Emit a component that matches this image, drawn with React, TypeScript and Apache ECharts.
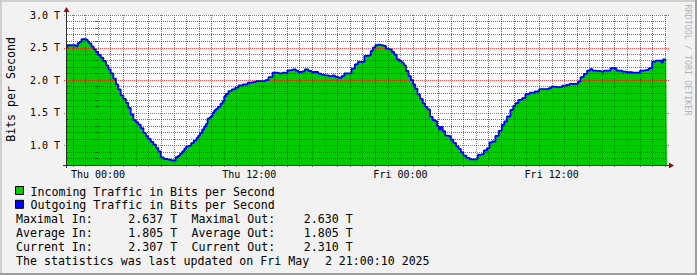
import React, { useEffect, useRef } from 'react';
import * as echarts from 'echarts';

// time in hours relative to Thu 00:00
const hours = [
  -2.46, -2.38, -1.83, -1.71, -1.53, -1.41, -1.22, -1.01, -0.87, -0.74,
  -0.61, -0.42, -0.26, -0.08, 0.10, 0.32, 0.53, 0.72, 0.90, 1.11,
  1.33, 1.51, 1.69, 1.91, 2.12, 2.30, 2.49, 2.70, 2.92, 3.10,
  3.28, 3.50, 3.71, 3.89, 4.08, 4.29, 4.50, 4.69, 4.87, 5.08,
  5.35, 5.62, 5.88, 6.04, 6.28, 6.43, 6.59, 6.78, 6.91, 7.07,
  7.31, 7.49, 7.71, 7.92, 8.02, 8.18, 8.36, 8.50, 8.63, 8.76,
  8.90, 9.03, 9.16, 9.29, 9.43, 9.61, 9.83, 9.95, 10.09, 10.22,
  10.49, 10.75, 11.02, 11.28, 11.68, 12.07, 12.34, 12.73, 13.13, 13.40,
  13.66, 14.04, 14.43, 14.69, 14.96, 15.09, 15.35, 15.62, 15.75, 16.02,
  16.28, 16.55, 16.82, 17.08, 17.34, 17.61, 17.87, 18.13, 18.40, 18.67,
  18.93, 19.20, 19.46, 19.64, 19.99, 20.25, 20.52, 20.71, 21.05, 21.23,
  21.58, 21.71, 21.92, 22.08, 22.26, 22.48, 22.74, 22.96, 23.22, 23.41,
  23.59, 23.81, 24.01, 24.20, 24.33, 24.54, 24.73, 24.92, 25.08, 25.26,
  25.44, 25.66, 25.87, 26.05, 26.24, 26.45, 26.66, 26.85, 26.98, 27.11,
  27.24, 27.46, 27.64, 27.90, 28.09, 28.30, 28.52, 28.70, 28.89, 29.10,
  29.37, 29.63, 29.89, 30.10, 30.21, 30.48, 30.74, 31.00, 31.14, 31.40,
  31.67, 31.93, 32.15, 32.33, 32.59, 32.86, 33.04, 33.20, 33.52, 33.78,
  34.05, 34.45, 34.85, 35.16, 35.64, 35.90, 36.04, 36.43, 36.70, 36.96,
  37.36, 37.49, 38.02, 38.15, 38.42, 38.68, 38.94, 39.13, 39.34, 39.61,
  40.01, 40.27, 40.53, 40.80, 41.06, 41.20, 41.46, 41.72, 42.12, 42.52,
  42.92, 43.11, 43.58, 43.84, 44.11, 44.37, 44.63, 44.77, 44.90, 45.04,
  45.15,
];

// Tbit/s
const incoming = [
  2.49, 2.536, 2.536, 2.52, 2.567, 2.587, 2.628, 2.628, 2.618, 2.587,
  2.56, 2.515, 2.474, 2.433, 2.387, 2.346, 2.295, 2.228, 2.167, 2.105,
  2.023, 1.936, 1.859, 1.767, 1.715, 1.654, 1.577, 1.474, 1.387, 1.356,
  1.32, 1.264, 1.192, 1.141, 1.1, 1.054, 1.013, 0.962, 0.91, 0.818,
  0.792, 0.782, 0.772, 0.767, 0.82, 0.84, 0.874, 0.91, 0.95, 0.987,
  0.997, 1.036, 1.074, 1.113, 1.15, 1.19, 1.244, 1.29, 1.33, 1.41,
  1.425, 1.451, 1.5, 1.536, 1.56, 1.592, 1.64, 1.68, 1.754, 1.792,
  1.833, 1.859, 1.885, 1.92, 1.936, 1.962, 1.972, 1.987, 1.987, 2.0,
  2.046, 2.115, 2.105, 2.115, 2.105, 2.151, 2.156, 2.167, 2.146, 2.126,
  2.136, 2.167, 2.141, 2.126, 2.126, 2.1, 2.085, 2.074, 2.064, 2.074,
  2.05, 2.038, 2.064, 2.105, 2.105, 2.177, 2.244, 2.28, 2.28, 2.372,
  2.382, 2.449, 2.5, 2.536, 2.546, 2.536, 2.526, 2.485, 2.474, 2.433,
  2.392, 2.32, 2.295, 2.269, 2.228, 2.141, 2.064, 2.0, 1.936, 1.869,
  1.782, 1.715, 1.644, 1.592, 1.551, 1.438, 1.387, 1.372, 1.295, 1.244,
  1.285, 1.218, 1.151, 1.141, 1.09, 1.038, 0.987, 0.946, 0.895, 0.844,
  0.808, 0.785, 0.785, 0.79, 0.857, 0.865, 0.923, 0.959, 1.046, 1.06,
  1.148, 1.224, 1.316, 1.367, 1.444, 1.546, 1.607, 1.648, 1.699, 1.724,
  1.786, 1.811, 1.827, 1.862, 1.862, 1.878, 1.903, 1.893, 1.893, 1.918,
  1.929, 1.944, 1.944, 1.98, 2.046, 2.097, 2.148, 2.168, 2.148, 2.143,
  2.133, 2.148, 2.148, 2.184, 2.184, 2.148, 2.148, 2.133, 2.122, 2.117,
  2.117, 2.148, 2.158, 2.184, 2.286, 2.301, 2.301, 2.27, 2.321, 2.311,
  2.307,
];

// outgoing traffic overlaps incoming almost exactly in the picture
const outgoing = incoming;

const xLabelHours = [0, 12, 24, 36];
const xLabels = ['Thu 00:00', 'Thu 12:00', 'Fri 00:00', 'Fri 12:00'];
const majorHours = [0, 6, 12, 18, 24, 30, 36, 42];
const minorHours = Array.from({ length: 48 }, (_, i) => i - 2).filter((h) => h % 6 !== 0);
const yMajor = [1.0, 1.5, 2.0, 2.5, 3.0];
const yMinor = [0.8, 0.9, 1.1, 1.2, 1.3, 1.4, 1.6, 1.7, 1.8, 1.9, 2.1, 2.2, 2.3, 2.4, 2.6, 2.7, 2.8, 2.9];

const yTitle = 'Bits per Second';
const sideText = 'RRDTOOL / TOBI OETIKER';
const legendItems = [
  { text: 'Incoming Traffic in Bits per Second', color: '#00CC00' },
  { text: 'Outgoing Traffic in Bits per Second', color: '#0000FF' },
];
const statRows = [
  ['Maximal In:', '2.637 T', 'Maximal Out:', '2.630 T'],
  ['Average In:', '1.805 T', 'Average Out:', '1.805 T'],
  ['Current In:', '2.307 T', 'Current Out:', '2.310 T'],
];
const updatedA = 'The statistics was last updated on Fri May';
const updatedB = '2 21:00:10 2025';

const MONO = '"DejaVu Sans Mono", monospace';
const X_MIN = -2.46;
const X_MAX = 45.15;
const Y_MIN = 0.7;
const Y_MAX = 3.0;

export default function App() {
  const ref = useRef<HTMLDivElement>(null);

  useEffect(() => {
    if (!ref.current) return;
    const chart = echarts.init(ref.current, undefined, { renderer: 'svg' });

    const CW = 7.02;
    const X0 = 16;
    const cols = [0, 16, 25, 41];
    const lineY = [191.5, 205.3, 219, 233, 247, 261];

    const graphics: any[] = [];
    // frame shading
    graphics.push(
      { type: 'rect', shape: { x: 0, y: 0, width: 697, height: 2 }, style: { fill: '#CFCFCF' }, z: 1 },
      { type: 'rect', shape: { x: 0, y: 0, width: 2, height: 275 }, style: { fill: '#CFCFCF' }, z: 1 },
      { type: 'rect', shape: { x: 695, y: 0, width: 2, height: 275 }, style: { fill: '#9E9E9E' }, z: 1 },
      { type: 'rect', shape: { x: 0, y: 273, width: 697, height: 2 }, style: { fill: '#9E9E9E' }, z: 1 },
    );
    // axis lines and arrows
    graphics.push(
      { type: 'line', shape: { x1: 63, y1: 165.5, x2: 669, y2: 165.5 }, style: { stroke: '#2C2C2C', lineWidth: 1 }, z: 20 },
      { type: 'line', shape: { x1: 66.5, y1: 168, x2: 66.5, y2: 11 }, style: { stroke: '#2C2C2C', lineWidth: 1 }, z: 20 },
      { type: 'polygon', shape: { points: [[669, 162.5], [674, 165.5], [669, 168.5]] }, style: { fill: '#8B1010' }, z: 21 },
      { type: 'polygon', shape: { points: [[63.5, 12], [66.5, 7], [69.5, 12]] }, style: { fill: '#8B1010' }, z: 21 },
    );
    // titles
    graphics.push(
      {
        type: 'text', x: 10.5, y: 89.5, rotation: Math.PI / 2,
        style: { text: yTitle, fill: '#000', fontSize: 11.6, fontFamily: MONO, align: 'center', verticalAlign: 'middle' },
        z: 20,
      },
      {
        type: 'text', x: 688, y: 60, rotation: -Math.PI / 2,
        style: { text: sideText, fill: '#B4B4B4', fontSize: 8.4, fontFamily: MONO, align: 'center', verticalAlign: 'middle' },
        z: 20,
      },
    );
    // legend
    legendItems.forEach((it, i) => {
      graphics.push(
        { type: 'rect', shape: { x: 15.5, y: lineY[i] - 5, width: 8, height: 8 }, style: { fill: it.color, stroke: '#000', lineWidth: 1 }, z: 20 },
        {
          type: 'text', x: 30.5, y: lineY[i],
          style: { text: it.text, fill: '#000', fontSize: 11.6, fontFamily: MONO, align: 'left', verticalAlign: 'middle' },
          z: 20,
        },
      );
    });
    statRows.forEach((row, r) => {
      row.forEach((cell, c) => {
        graphics.push({
          type: 'text', x: X0 + cols[c] * CW, y: lineY[2 + r],
          style: { text: cell, fill: '#000', fontSize: 11.6, fontFamily: MONO, align: 'left', verticalAlign: 'middle' },
          z: 20,
        });
      });
    });
    graphics.push(
      {
        type: 'text', x: X0, y: lineY[5],
        style: { text: updatedA, fill: '#000', fontSize: 11.6, fontFamily: MONO, align: 'left', verticalAlign: 'middle' },
        z: 20,
      },
      {
        type: 'text', x: X0 + 44 * CW, y: lineY[5],
        style: { text: updatedB, fill: '#000', fontSize: 11.6, fontFamily: MONO, align: 'left', verticalAlign: 'middle' },
        z: 20,
      },
    );

    const minorColor = 'rgba(0,0,0,0.55)';
    const majorColor = 'rgba(255,0,0,0.7)';
    const dotted = [1, 1];

    chart.setOption({
      animation: false,
      backgroundColor: '#F2F2F2',
      grid: {
        left: 67, top: 15, width: 600, height: 150,
        show: true, backgroundColor: '#FFFFFF', borderWidth: 0,
      },
      xAxis: {
        type: 'value', min: X_MIN, max: X_MAX, z: 3,
        axisLine: { show: false },
        axisTick: { show: true, length: 2, customValues: minorHours, lineStyle: { color: minorColor } },
        splitLine: { show: true, lineStyle: { color: minorColor, width: 1, type: dotted } },
        axisLabel: {
          customValues: xLabelHours,
          formatter: (v: number) => {
            const i = xLabelHours.findIndex((h) => Math.abs(h - v) < 1e-6);
            return i >= 0 ? xLabels[i] : '';
          },
          fontFamily: MONO, fontSize: 10, color: '#000', margin: 4,
        },
      },
      yAxis: {
        type: 'value', min: Y_MIN, max: Y_MAX, z: 3,
        axisLine: { show: false },
        axisTick: { show: true, length: 3, customValues: yMinor, lineStyle: { color: minorColor } },
        splitLine: { show: true, lineStyle: { color: minorColor, width: 1, type: dotted } },
        axisLabel: {
          customValues: yMajor,
          formatter: (v: number) => v.toFixed(1) + ' T',
          fontFamily: MONO, fontSize: 10, color: '#000', margin: 7,
        },
      },
      graphic: { elements: graphics },
      series: [
        {
          name: 'Incoming',
          type: 'line',
          step: 'middle',
          data: hours.map((h, i) => [h, incoming[i]]),
          symbol: 'none',
          showSymbol: false,
          lineStyle: { color: '#00CC00', width: 1 },
          areaStyle: { color: '#00CC00', opacity: 1, origin: 'start' },
          z: 2,
        },
        {
          name: 'Outgoing',
          type: 'line',
          step: 'middle',
          data: hours.map((h, i) => [h, outgoing[i]]),
          symbol: 'none',
          showSymbol: false,
          lineStyle: { color: '#0000FF', width: 1.8 },
          z: 4,
        },
      ],
    });

    // red major grid, placed through the axes' scales
    const tl = chart.convertToPixel({ gridIndex: 0 }, [X_MIN, Y_MAX]) as number[];
    const br = chart.convertToPixel({ gridIndex: 0 }, [X_MAX, Y_MIN]) as number[];
    const majorEls: any[] = [];
    majorHours.forEach((h) => {
      const p = chart.convertToPixel({ gridIndex: 0 }, [h, Y_MIN]) as number[];
      const x = Math.round(p[0]) + 0.5;
      majorEls.push({
        type: 'line', silent: true, z: 3,
        shape: { x1: x, y1: tl[1], x2: x, y2: br[1] + 2 },
        style: { stroke: majorColor, lineWidth: 1, lineDash: dotted },
      });
    });
    yMajor.forEach((v) => {
      const p = chart.convertToPixel({ gridIndex: 0 }, [X_MIN, v]) as number[];
      const y = Math.round(p[1]) + 0.5;
      majorEls.push({
        type: 'line', silent: true, z: 3,
        shape: { x1: tl[0] - 3, y1: y, x2: br[0] + 2, y2: y },
        style: { stroke: majorColor, lineWidth: 1, lineDash: dotted },
      });
    });
    chart.setOption({ graphic: { elements: [...graphics, ...majorEls] } });

    return () => chart.dispose();
  }, []);

  return (
    <div
      ref={ref}
      style={{ position: 'absolute', left: 0, top: 0, width: 697, height: 275 }}
    />
  );
}
